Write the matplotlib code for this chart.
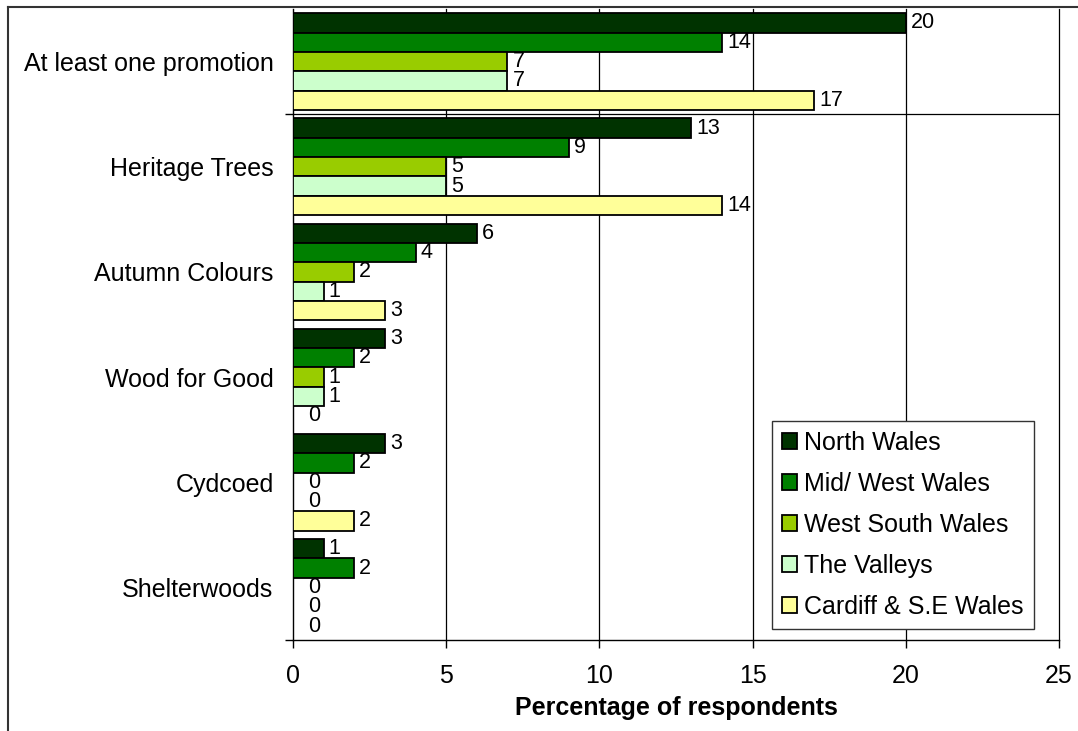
import numpy as np
import matplotlib
matplotlib.use('Agg')
import matplotlib.pyplot as plt
from matplotlib.lines import Line2D

plt.rcParams['font.family'] = ['Liberation Sans', 'DejaVu Sans']

# chart data
categories = ['At least one promotion', 'Heritage Trees', 'Autumn Colours',
              'Wood for Good', 'Cydcoed', 'Shelterwoods']
regions = ['North Wales', 'Mid/ West Wales', 'West South Wales',
           'The Valleys', 'Cardiff & S.E Wales']
north_wales = [20, 13, 6, 3, 3, 1]
mid_west_wales = [14, 9, 4, 2, 2, 2]
west_south_wales = [7, 5, 2, 1, 0, 0]
the_valleys = [7, 5, 1, 1, 0, 0]
cardiff_se_wales = [17, 14, 3, 0, 2, 0]
colours = ['#003300', '#008000', '#99CC00', '#CCFFCC', '#FFFF99']
x_ticks = [0, 5, 10, 15, 20, 25]

series = [north_wales, mid_west_wales, west_south_wales, the_valleys, cardiff_se_wales]

fig = plt.figure(figsize=(10.78, 7.31), dpi=100)
ax = fig.add_axes([0.2718, 0.1245, 0.7106, 0.8632])

y = np.arange(len(categories))
h = 0.184
for i, (vals, name, col) in enumerate(zip(series, regions, colours)):
    pos = y + (i - 2) * h
    ax.barh(pos, vals, height=h, color=col, edgecolor='black', linewidth=1.3,
            label=name, zorder=3)
    for p, v in zip(pos, vals):
        off = 5 if v > 0 else 15  # px
        ax.annotate(str(v), (v, p), xytext=(off * 0.72, 0), textcoords='offset points',
                    ha='left', va='center', fontsize=15.5, zorder=4)

ax.set_xlim(0, 25)
ax.set_ylim(5.5, -0.5)
ax.set_xticks(x_ticks)
ax.set_yticks(y)
ax.set_yticklabels(categories, fontsize=18)
ax.set_yticks([0.5, 5.5], minor=True)
ax.tick_params(axis='y', which='major', length=0, pad=14)
ax.tick_params(axis='y', which='minor', length=6, width=1, color='black')
ax.tick_params(axis='x', labelsize=18, length=6, width=1, pad=11)
for s in ['top', 'right']:
    ax.spines[s].set_visible(False)
for s in ['left', 'bottom']:
    ax.spines[s].set_linewidth(1.0)
    ax.spines[s].set_color('black')

for xv in x_ticks[1:]:
    ax.axvline(xv, color='black', lw=0.9, zorder=1, clip_on=False)
ax.axhline(0.5, color='black', lw=0.9, zorder=1)

ax.set_xlabel('Percentage of respondents', fontsize=18, fontweight='bold', labelpad=6)

leg = ax.legend(loc='lower right', bbox_to_anchor=(0.967, 0.0174),
                bbox_transform=ax.transAxes, borderaxespad=0, fontsize=18,
                fancybox=False, framealpha=1, edgecolor='#333333',
                handlelength=0.6, handleheight=0.6, handletextpad=0.3,
                labelspacing=0.68, borderpad=0.4)
leg.get_frame().set_linewidth(1.0)
leg.set_zorder(5)

# outer frame lines (left and top)
fig.add_artist(Line2D([8 / 1078, 8 / 1078], [0, 1 - 7 / 731], transform=fig.transFigure,
                      color='#333333', lw=1.5))
fig.add_artist(Line2D([8 / 1078, 1], [1 - 7 / 731, 1 - 7 / 731], transform=fig.transFigure,
                      color='#333333', lw=1.5))

fig.savefig('out.png', dpi=100)
